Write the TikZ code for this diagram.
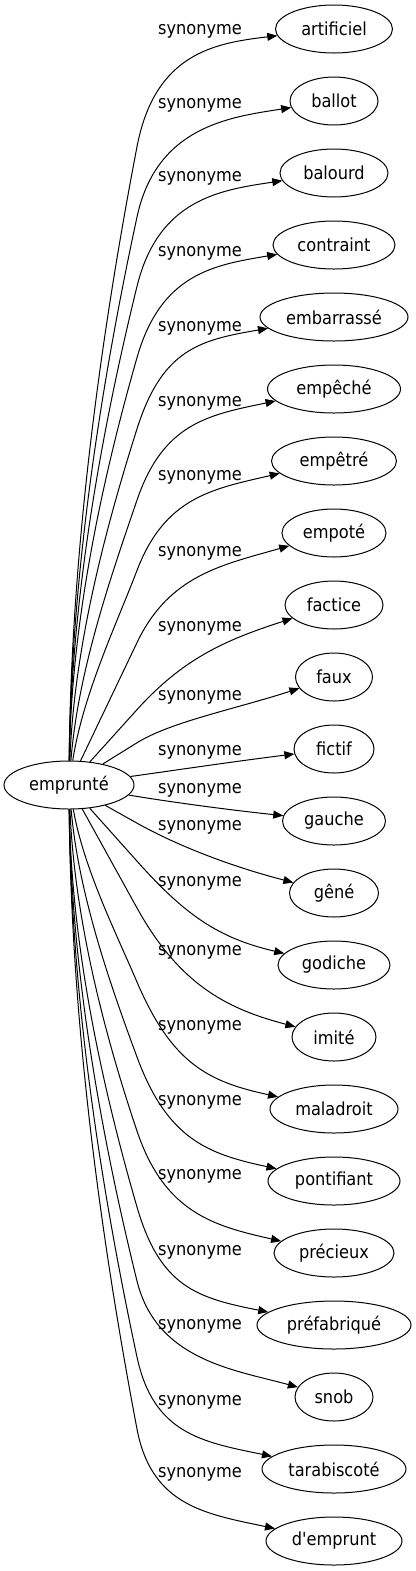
\documentclass[tikz,border=0pt]{standalone}
\usepackage{fontspec}
\setmainfont{DejaVu Sans Condensed}
\usetikzlibrary{shapes.geometric,arrows.meta}
\begin{document}
\begin{tikzpicture}[x=0.75pt,y=-0.75pt,
  tnode/.style={draw, ellipse, inner sep=0pt, minimum height=36pt, line width=0.75pt, font=\fontsize{13.5}{16}\selectfont},
  lbl/.style={inner sep=0pt, font=\fontsize{13.5}{16}\selectfont},
  conn/.style={draw, line width=0.75pt, -{Triangle[length=7.5pt,width=6pt]}}]
\useasboundingbox (0,0) rectangle (416,1571);
\node[tnode, minimum width=97.5pt] (src) at (69,785) {emprunté};
\foreach \i/\txt/\w/\ly in {0/artificiel/117/31, 1/ballot/88/105, 2/balourd/108/178, 3/contraint/122/253,
  4/embarrassé/148/328, 5/empêché/133/403, 6/empêtré/125/477, 7/empoté/104/553, 8/factice/98/628,
  9/faux/77/697, 10/fictif/80/752, 11/gauche/103/790, 12/gêné/89/827, 13/godiche/112/883,
  14/imité/84/952, 15/maladroit/128/1027, 16/pontifiant/132/1102, 17/précieux/120/1176,
  18/préfabriqué/154/1252, 19/snob/78/1326, 20/tarabiscoté/144/1402, 21/d\textquotesingle emprunt/136/1474}{
  \pgfmathsetmacro\ty{29+72*\i}
  \node[tnode, minimum width=\w*0.75pt] (t\i) at (334,\ty) {\txt};
  \node[lbl] (l\i) at (200,\ly) {synonyme};
  \pgfmathsetmacro\W{334-\w/2}
  \ifnum\i<10
    \pgfmathsetmacro\Dl{785-\ly}
    \pgfmathsetmacro\kk{min(0.52*\Dl,78+0.05*\Dl)}
    \pgfmathsetmacro\kx{137}
    \pgfmathsetmacro\ky{\ly+\kk}
    \pgfmathsetmacro\L{762-\ky}
    \pgfmathsetmacro\ff{1+0.8*min(1,max(0,(785-\ky-150)/250))}
    \pgfmathsetmacro\sx{\ff*68/(785-\ky)}
    \pgfmathsetmacro\nn{veclen(\sx,1)}
    \pgfmathsetmacro\ex{\sx/\nn}
    \pgfmathsetmacro\ey{-1/\nn}
    \pgfmathsetmacro\cbx{\kx-0.3*\L*\ex}
    \pgfmathsetmacro\cby{\ky-0.3*\L*\ey}
    \pgfmathsetmacro\cax{71+0.5*(\cbx-71)*(1-min(1,\L/400))}
    \pgfmathsetmacro\cay{762-0.35*\L}
    \pgfmathsetmacro\av{0.8*(\kk+4)}
    \pgfmathsetmacro\cdy{\ly+12}
  \else
    \pgfmathsetmacro\kk{45*min(1,max(0,(\ly-815)/140))}
    \pgfmathsetmacro\kx{137}
    \pgfmathsetmacro\ky{\ly-\kk}
    \pgfmathsetmacro\L{\ky-808}
    \pgfmathsetmacro\ff{1+0.8*min(1,max(0,(\L-100)/250))}
    \pgfmathsetmacro\sx{\ff*68/abs(\ky-785)}
    \pgfmathsetmacro\nn{veclen(\sx,1)}
    \pgfmathsetmacro\ex{\sx/\nn}
    \pgfmathsetmacro\ey{1/\nn}
    \pgfmathsetmacro\cbx{\kx-0.3*\L*\ex}
    \pgfmathsetmacro\cby{\ky-0.3*\L*\ey}
    \pgfmathsetmacro\cax{71+0.5*(\cbx-71)*(1-min(1,\L/400))}
    \pgfmathsetmacro\cay{808+0.35*\L}
    \pgfmathsetmacro\av{0.8*(\ty-14-\ky)}
    \pgfmathsetmacro\cdy{\ty-27}
  \fi
  \pgfmathsetmacro\ccx{\kx+\av*\ex}
  \pgfmathsetmacro\ccy{\ky+\av*\ey}
  \pgfmathsetmacro\cdx{\W-60}
  \ifnum\i=10 \draw[conn] (src) .. controls (170,771) and (230,762) .. (t10);
  \else\ifnum\i=11 \draw[conn] (src) .. controls (170,802) and (230,810) .. (t11);
  \else
    \ifdim\L pt<160pt
      \draw[conn] (src) -- (\kx,\ky) .. controls (\ccx,\ccy) and (\cdx,\cdy) .. (t\i);
    \else
      \draw[conn] (src) .. controls (\cax,\cay) and (\cbx,\cby) .. (\kx,\ky) .. controls (\ccx,\ccy) and (\cdx,\cdy) .. (t\i);
    \fi
  \fi\fi
}
\end{tikzpicture}
\end{document}
